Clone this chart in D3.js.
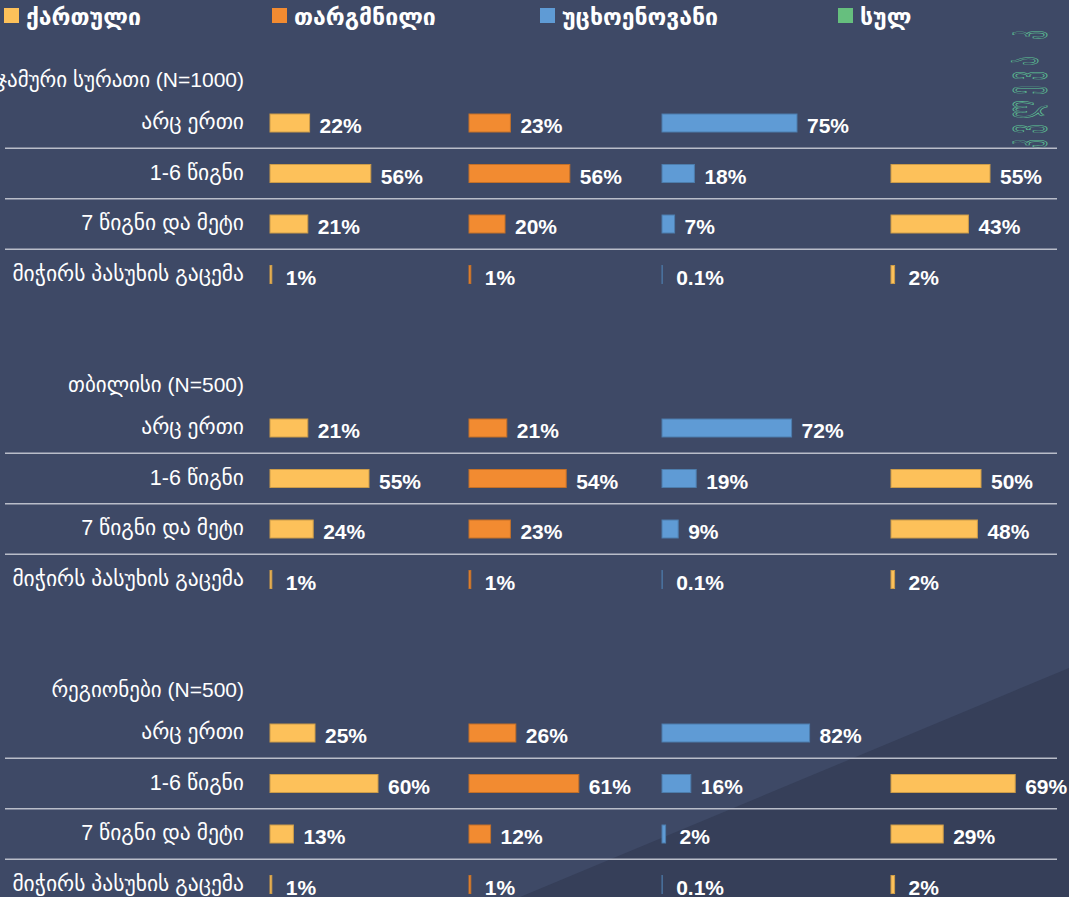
<!DOCTYPE html>
<html>
<head>
<meta charset="utf-8">
<script src="https://cdn.jsdelivr.net/npm/d3@7"></script>
<style>
body { margin: 0; background: #3e4966; overflow: hidden; }
text { font-family: "Liberation Sans", "DejaVu Sans", sans-serif; fill: #fff; }
</style>
</head>
<body>
<script>
var sections = ["ჯამური სურათი (N=1000)", "თბილისი (N=500)", "რეგიონები (N=500)"];
var answers = ["არც ერთი", "1-6 წიგნი", "7 წიგნი და მეტი", "მიჭირს პასუხის გაცემა"];
var seriesNames = ["ქართული", "თარგმნილი", "უცხოენოვანი", "სულ"];

// one row per section, one value per answer (%)
var kartuli = [[22, 56, 21, 1], [21, 55, 24, 1], [25, 60, 13, 1]];
var targmnili = [[23, 56, 20, 1], [21, 54, 23, 1], [26, 61, 12, 1]];
var ucxoenovani = [[75, 18, 7, 0.1], [72, 19, 9, 0.1], [82, 16, 2, 0.1]];
var sul = [[null, 55, 43, 2], [null, 50, 48, 2], [null, 69, 29, 2]];

var width = 1069,
	height = 897;

var seriesValues = [kartuli, targmnili, ucxoenovani, sul];
var barColors = ["#fdc15a", "#f28b31", "#5f9bd5", "#fdc15a"];
var legendColors = ["#fdc15a", "#f28b31", "#5f9bd5", "#66bf7e"];

var x = d3.scaleLinear().domain([0, 100]).range([0, 180]),
	col = d3.scaleOrdinal().domain(seriesNames).range([270, 469, 662, 891]),
	legendX = d3.scaleOrdinal().domain(seriesNames).range([4, 272, 540, 838]),
	secY = d3.scalePoint().domain(sections).range([123, 733]),
	rowY = d3.scalePoint().domain(answers).range([0, 151.5]),
	barH = 18;

var svg = d3.select("body").append("svg")
	.attr("width", width)
	.attr("height", height);

svg.append("rect")
	.attr("width", width)
	.attr("height", height)
	.attr("fill", "#3e4966");

// darker diagonal corner in the background
svg.append("path")
	.attr("d", "M520,897L1069,668L1069,897Z")
	.attr("fill", "#363f59");

// decorative vertical word on the right edge
svg.append("text")
	.attr("transform", "translate(1037,148)rotate(-90)scale(1,2.6)")
	.attr("font-size", 17)
	.attr("letter-spacing", 6)
	.style("font-family", "'DejaVu Sans'")
	.style("fill", "none")
	.style("stroke", "#5ec596")
	.style("stroke-width", 0.7)
	.style("vector-effect", "non-scaling-stroke")
	.text("კვლევა კ");

// legend
var legend = svg.selectAll(".legend")
	.data(seriesNames)
	.enter().append("g")
	.attr("class", "legend")
	.attr("transform", function (d) {
		return "translate(" + legendX(d) + ",0)";
	});

legend.append("rect")
	.attr("y", 8)
	.attr("width", 15)
	.attr("height", 15)
	.attr("fill", function (d, i) {
		return legendColors[i];
	});

legend.append("text")
	.attr("x", 22)
	.attr("y", 25)
	.attr("font-size", 23)
	.attr("font-weight", "bold")
	.text(function (d) {
		return d;
	});

var section = svg.selectAll(".section")
	.data(sections)
	.enter().append("g")
	.attr("class", "section")
	.attr("transform", function (d) {
		return "translate(0," + secY(d) + ")";
	});

section.append("text")
	.attr("x", 244)
	.attr("y", -36)
	.attr("text-anchor", "end")
	.attr("font-size", 21)
	.text(function (d) {
		return d;
	});

// separators between answers
section.selectAll(".sep")
	.data(answers.slice(1))
	.enter().append("line")
	.attr("class", "sep")
	.attr("x1", 5)
	.attr("x2", 1057)
	.attr("y1", function (d) {
		return rowY(d) - rowY.step() / 2;
	})
	.attr("y2", function (d) {
		return rowY(d) - rowY.step() / 2;
	})
	.attr("stroke", "#b9bdc9")
	.attr("stroke-width", 1.5);

section.selectAll(".rowlabel")
	.data(answers)
	.enter().append("text")
	.attr("class", "rowlabel")
	.attr("x", 244)
	.attr("y", function (d) {
		return rowY(d) + 6;
	})
	.attr("text-anchor", "end")
	.attr("font-size", 21.5)
	.text(function (d) {
		return d;
	});

section.each(function (sec, s) {
	var g = d3.select(this);
	var cells = [];
	seriesNames.forEach(function (name, j) {
		answers.forEach(function (a, i) {
			var v = seriesValues[j][s][i];
			if (v == null) return;
			cells.push({ series: name, j: j, answer: a, value: v });
		});
	});

	g.selectAll(".bar")
		.data(cells)
		.enter().append("rect")
		.attr("class", "bar")
		.attr("x", function (d) {
			return col(d.series);
		})
		.attr("y", function (d) {
			return rowY(d.answer) - barH / 2;
		})
		.attr("width", function (d) {
			return x(d.value);
		})
		.attr("height", barH)
		.attr("fill", function (d) {
			return barColors[d.j];
		})
		.attr("stroke", function (d) {
			return d3.color(barColors[d.j]).darker(0.6);
		})
		.attr("stroke-width", 1);

	g.selectAll(".val")
		.data(cells)
		.enter().append("text")
		.attr("class", "val")
		.attr("x", function (d) {
			return col(d.series) + x(d.value) + (d.value < 5 ? 14 : 10);
		})
		.attr("y", function (d) {
			return rowY(d.answer) + 10;
		})
		.attr("font-size", 21)
		.attr("font-weight", "bold")
		.text(function (d) {
			return d.value + "%";
		});
});
</script>
</body>
</html>
